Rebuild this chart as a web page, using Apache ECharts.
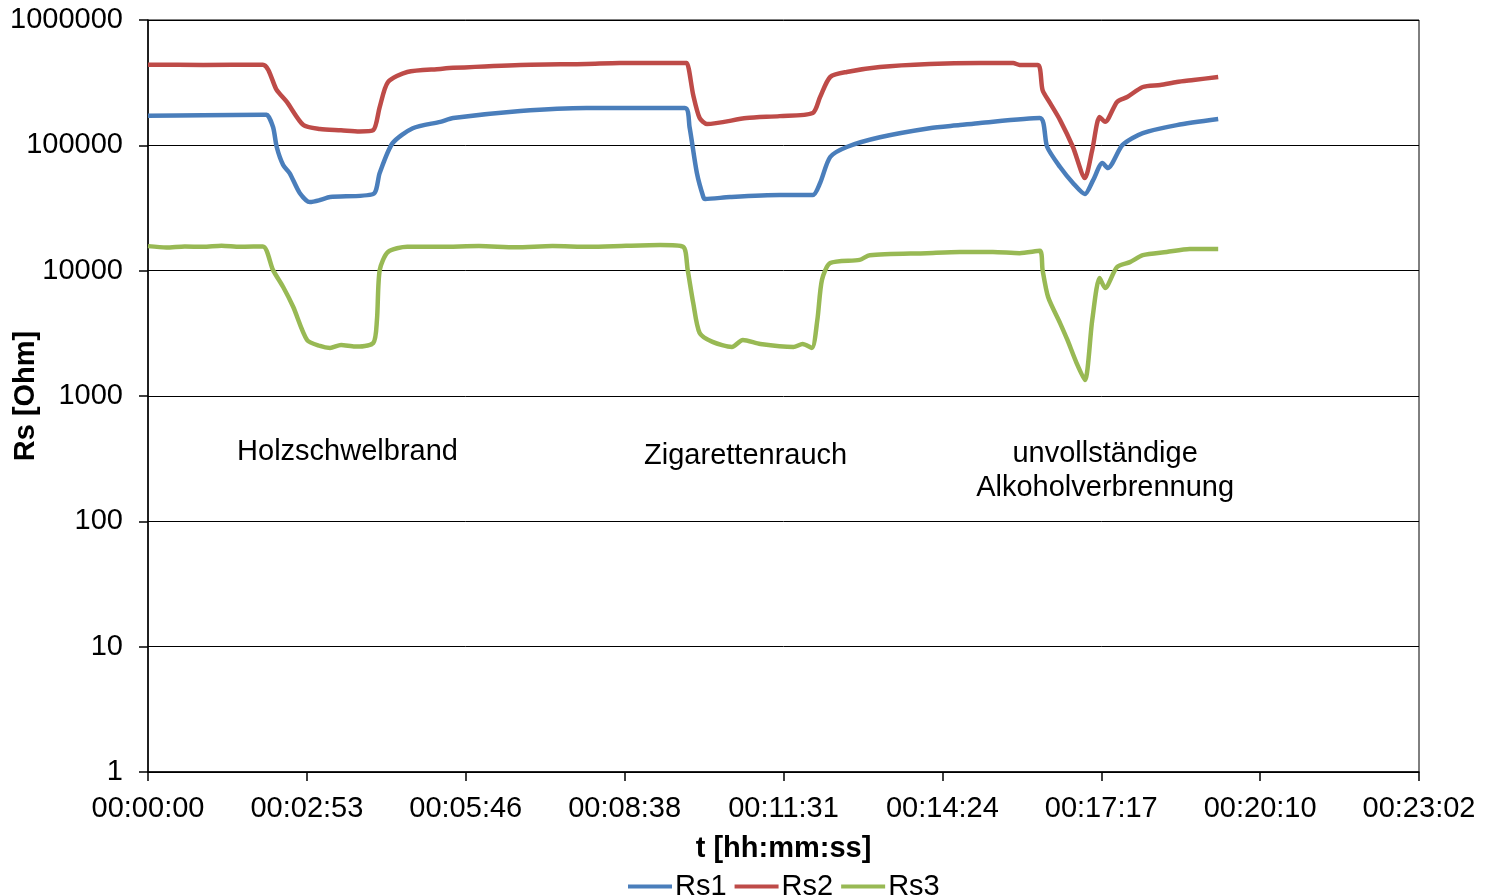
<!DOCTYPE html>
<html>
<head>
<meta charset="utf-8">
<title>Rs</title>
<script src="https://cdn.jsdelivr.net/npm/echarts@6/dist/echarts.min.js"></script>
<style>
  html, body { margin: 0; padding: 0; background: #ffffff; }
  #chart { width: 1490px; height: 895px; }
</style>
</head>
<body>
<div id="chart"></div>
<script>
// Sensor resistances (Ohm) over time (seconds since start)
const rs1Time   = [0, 60, 125, 129, 136, 140, 147, 154, 165, 176, 187, 198, 245, 252, 266, 288, 318, 332, 405, 477, 584, 589, 597, 604, 606, 633, 687, 723, 731, 742, 760, 796, 850, 883, 905, 970, 978, 992, 1006, 1019, 1028, 1038, 1044, 1060, 1082, 1119, 1164];
const rs1Values = [172000, 174000, 175000, 175000, 140000, 97000, 69600, 60100, 41700, 35300, 36600, 38700, 40900, 60100, 104000, 137000, 154000, 165000, 188000, 199000, 199000, 140000, 60100, 38700, 37300, 38700, 40200, 40200, 50100, 80700, 97000, 116000, 137000, 145000, 151000, 165000, 97000, 67100, 50100, 40900, 52800, 72300, 65900, 100700, 125000, 145000, 162000];

const rs2Time   = [0, 60, 125, 140, 151, 169, 187, 210, 230, 245, 252, 261, 282, 318, 332, 405, 477, 513, 584, 586, 593, 600, 608, 651, 687, 723, 731, 742, 760, 796, 850, 905, 941, 948, 968, 973, 981, 992, 1006, 1019, 1027, 1035, 1041, 1054, 1065, 1082, 1101, 1119, 1137, 1164];
const rs2Values = [440000, 438000, 440000, 276000, 222000, 145000, 135000, 132000, 129000, 132000, 202000, 320000, 385000, 407000, 415000, 438000, 446000, 454000, 454000, 454000, 252000, 165000, 148000, 165000, 171000, 181000, 243000, 351000, 385000, 422000, 446000, 454000, 454000, 438000, 438000, 276000, 218000, 159000, 97000, 54800, 91800, 168000, 154000, 222000, 243000, 292000, 303000, 320000, 332000, 351000];

const rs3Time   = [0, 20, 40, 60, 80, 100, 125, 136, 147, 158, 173, 187, 198, 210, 225, 245, 249, 252, 261, 282, 318, 360, 400, 440, 480, 520, 557, 582, 587, 593, 600, 614, 635, 647, 666, 702, 712, 722, 728, 733, 742, 774, 785, 847, 883, 919, 948, 970, 973, 979, 992, 1000, 1010, 1019, 1027, 1035, 1041, 1054, 1068, 1082, 1108, 1133, 1164];
const rs3Values = [15700, 15300, 15600, 15500, 15800, 15500, 15600, 10100, 7410, 5130, 2800, 2510, 2420, 2550, 2480, 2650, 4040, 10100, 14100, 15500, 15500, 15700, 15400, 15700, 15500, 15800, 16000, 15500, 10100, 5530, 3180, 2700, 2460, 2800, 2600, 2460, 2600, 2420, 4040, 8430, 11500, 12200, 13300, 13800, 14100, 14100, 13800, 14400, 10100, 6170, 3820, 2800, 1830, 1340, 4040, 8740, 7280, 10700, 11700, 13300, 14100, 14900, 14900];

// Axis ticks: 0.002 day steps, labelled as hh:mm:ss
const xTickStep = 172.8;
const xMax = 1382.4;
const yMin = 1;
const yMax = 1000000;

const seriesNames = ['Rs1', 'Rs2', 'Rs3'];
const seriesColors = ['#4A7EBB', '#BE4B48', '#98B954'];

// Event annotations: [time (s), resistance (Ohm), text]
const notes = [
  [217, 360, 'Holzschwelbrand'],
  [650, 330, 'Zigarettenrauch'],
  [1041, 250, 'unvollständige\nAlkoholverbrennung']
];

function pairs(t, v) { return t.map((x, i) => [x, v[i]]); }
function hms(sec) {
  const s = Math.round(sec);
  const p = n => String(n).padStart(2, '0');
  return p(Math.floor(s / 3600)) + ':' + p(Math.floor((s % 3600) / 60)) + ':' + p(s % 60);
}

const FONT = 'Liberation Sans, Arial, sans-serif';
const FS = 29;
const chart = echarts.init(document.getElementById('chart'), null, { renderer: 'canvas' });

const data = [pairs(rs1Time, rs1Values), pairs(rs2Time, rs2Values), pairs(rs3Time, rs3Values)];

chart.setOption({
  animation: false,
  backgroundColor: '#ffffff',
  textStyle: { fontFamily: FONT },
  grid: {
    left: 148, right: 71, top: 20, bottom: 123,
    containLabel: false,
    outerBoundsMode: 'none',
    show: true, borderColor: '#000000', borderWidth: 1
  },
  legend: {
    data: seriesNames.map(n => ({ name: n, icon: 'rect' })),
    bottom: -6,
    left: 628,
    itemWidth: 44,
    itemHeight: 4,
    itemGap: 8,
    padding: 0,
    textStyle: { fontSize: FS, color: '#000000', fontFamily: FONT, padding: [0, 0, 0, -2] }
  },
  xAxis: {
    type: 'value',
    min: 0,
    max: xMax,
    interval: xTickStep,
    name: 't [hh:mm:ss]',
    nameLocation: 'middle',
    nameGap: 62,
    nameMoveOverlap: false,
    nameTextStyle: { fontSize: FS, fontWeight: 'bold', color: '#000000', fontFamily: FONT },
    axisLine: { show: true, lineStyle: { color: '#000000', width: 1.5 } },
    axisTick: { show: true, length: 9, lineStyle: { color: '#000000', width: 1.5 } },
    axisLabel: { fontSize: FS, color: '#000000', margin: 22, formatter: v => hms(v), fontFamily: FONT, hideOverlap: false },
    splitLine: { show: false }
  },
  yAxis: {
    type: 'log',
    logBase: 10,
    min: yMin,
    max: yMax,
    name: 'Rs [Ohm]',
    nameLocation: 'middle',
    nameGap: 108,
    nameMoveOverlap: false,
    nameTextStyle: { fontSize: FS, fontWeight: 'bold', color: '#000000', fontFamily: FONT },
    axisLine: { show: true, lineStyle: { color: '#000000', width: 1.5 } },
    axisTick: { show: true, length: 9, lineStyle: { color: '#000000', width: 1.5 } },
    axisLabel: { fontSize: FS, color: '#000000', margin: 25, formatter: v => String(Math.round(v)), fontFamily: FONT },
    splitLine: { show: true, lineStyle: { color: '#000000', width: 1 } }
  },
  series: seriesNames.map((n, i) => ({
    name: n,
    type: 'line',
    data: data[i],
    showSymbol: false,
    smooth: 0.25,
    lineStyle: { color: seriesColors[i], width: 4.5 },
    itemStyle: { color: seriesColors[i] }
  }))
});

// Place the event labels in data coordinates
chart.setOption({
  graphic: notes.map(([t, v, txt]) => {
    const [px, py] = chart.convertToPixel({ gridIndex: 0 }, [t, v]);
    return {
      type: 'text',
      x: px,
      y: py,
      style: {
        text: txt,
        fontSize: FS,
        fontFamily: FONT,
        fill: '#000000',
        align: 'center',
        verticalAlign: 'middle',
        lineHeight: 34
      }
    };
  })
});
</script>
</body>
</html>
